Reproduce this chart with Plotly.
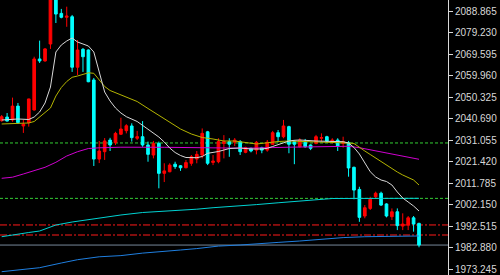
import plotly.graph_objects as go

# ---- candle data (index = bar number) ----
opens = [2039.76, 2041.4, 2040.1, 2046.3, 2037.4, 2038.9, 2044.55, 2067.4, 2066.5, 2074.1,
         2097.4, 2087.8, 2086.05, 2086.3, 2063.7, 2071.7, 2071.4, 2058.0, 2022.6, 2025.9,
         2031.1, 2029.9, 2033.7, 2035.3, 2037.4, 2031.9, 2032.6, 2028.9, 2024.4, 2029.6,
         2016.2, 2016.9, 2020.3, 2019.6, 2018.7, 2020.7, 2022.6, 2024.4, 2034.8, 2021.1,
         2021.4, 2029.6, 2030.4, 2030.1, 2030.4, 2025.6, 2027.4, 2026.6, 2027.7, 2026.6,
         2029.2, 2034.4, 2032.6, 2037.1, 2030.4, 2028.1, 2030.1, 2028.9, 2029.6, 2031.9,
         2032.6, 2030.4, 2031.1, 2029.6, 2030.0, 2018.9, 2009.0, 1997.1, 2000.5, 2005.7,
         2007.3, 2002.5, 1996.8, 1999.0, 1992.6, 1993.1, 1996.3, 1993.8]
highs = [2042.3, 2043.2, 2050.1, 2047.7, 2040.1, 2049.6, 2068.4, 2075.6, 2072.3, 2098.3,
         2099.2, 2089.8, 2090.8, 2087.1, 2075.9, 2072.3, 2071.7, 2058.9, 2030.7, 2032.0,
         2032.1, 2034.8, 2041.1, 2038.2, 2038.6, 2035.2, 2039.6, 2030.4, 2030.7, 2030.4,
         2020.7, 2020.7, 2021.4, 2019.9, 2022.2, 2024.4, 2026.2, 2036.3, 2035.2, 2024.4,
         2031.9, 2033.3, 2031.9, 2032.0, 2031.1, 2028.1, 2027.7, 2030.7, 2028.1, 2031.1,
         2035.2, 2035.6, 2040.1, 2037.5, 2031.1, 2031.9, 2031.6, 2029.2, 2033.4, 2034.1,
         2033.0, 2031.9, 2031.9, 2032.6, 2030.7, 2019.2, 2010.2, 2002.0, 2005.7, 2008.0,
         2008.0, 2002.8, 2000.5, 2000.5, 1998.3, 1997.1, 1997.1, 1994.1]
lows = [2039.3, 2039.4, 2039.3, 2038.3, 2034.3, 2037.1, 2044.3, 2065.6, 2066.2, 2071.9,
        2083.5, 2085.6, 2081.8, 2061.6, 2060.2, 2061.6, 2057.0, 2019.5, 2020.8, 2022.2,
        2026.2, 2028.9, 2033.4, 2034.1, 2030.4, 2031.1, 2028.1, 2021.4, 2022.9, 2009.5,
        2012.3, 2016.7, 2018.2, 2017.3, 2018.5, 2019.6, 2020.7, 2022.9, 2019.9, 2019.9,
        2020.7, 2022.9, 2023.6, 2028.4, 2024.4, 2025.2, 2025.6, 2024.7, 2025.2, 2025.9,
        2028.9, 2030.1, 2031.9, 2025.2, 2020.3, 2027.8, 2027.7, 2026.6, 2029.2, 2030.4,
        2030.1, 2029.6, 2026.2, 2027.7, 2014.7, 2004.6, 1994.5, 1996.1, 1999.8, 2005.0,
        2001.6, 1996.5, 1995.3, 1990.8, 1990.8, 1990.8, 1990.1, 1983.1]
closes = [2041.55, 2039.6, 2046.3, 2038.9, 2038.2, 2049.5, 2067.4, 2066.5, 2071.9, 2097.4,
          2087.5, 2086.05, 2086.6, 2063.7, 2071.4, 2068.4, 2057.2, 2022.6, 2026.2, 2030.7,
          2028.9, 2034.1, 2036.05, 2037.5, 2032.2, 2032.6, 2028.9, 2024.7, 2029.6, 2016.2,
          2017.3, 2019.9, 2019.2, 2018.7, 2021.0, 2023.6, 2024.7, 2034.1, 2020.7, 2021.7,
          2030.4, 2030.4, 2029.2, 2031.1, 2025.9, 2027.7, 2026.2, 2030.1, 2026.6, 2030.1,
          2034.4, 2032.6, 2037.4, 2029.2, 2029.2, 2031.1, 2028.1, 2027.4, 2032.6, 2032.2,
          2030.7, 2031.1, 2028.4, 2030.4, 2018.6, 2008.7, 1996.5, 2000.8, 2004.6, 2007.3,
          2002.0, 1997.1, 1999.0, 1992.8, 1993.5, 1996.3, 1993.5, 1984.1]

# ---- moving averages (bar index, price) ----
white_idx = [0, 3, 5, 6, 7, 8, 9, 10, 11, 12, 13, 14, 15, 16, 17, 18, 19, 20, 21, 22, 23, 25, 27,
             29, 30, 31, 32, 33, 34, 36, 37, 38, 40, 42, 44, 46, 48, 49, 50, 51, 52, 53, 54, 55,
             58, 61, 63, 64, 65, 66, 67, 68, 69, 70, 71, 72, 73, 74, 75, 76, 77]
white_val = [2040.08, 2040.53, 2040.30, 2041.42, 2043.66, 2047.69, 2054.85, 2070.51, 2073.65,
             2075.44, 2076.78, 2074.99, 2074.10, 2073.20, 2070.51, 2061.56, 2052.61, 2048.58,
             2045.45, 2043.21, 2041.56, 2039.41, 2036.05, 2032.47, 2030.23, 2027.55, 2025.53,
             2024.19, 2023.29, 2023.20, 2023.74, 2025.17, 2025.98, 2027.32, 2027.55, 2027.10,
             2027.10, 2027.41, 2028.22, 2029.11, 2030.01, 2030.68, 2030.99, 2031.13, 2030.68,
             2030.36, 2030.36, 2029.78, 2027.77, 2024.86, 2020.83, 2016.94, 2014.56, 2013.22,
             2012.55, 2010.98, 2007.85, 2005.17, 2003.37, 2001.58, 1999.35]

yellow_idx = [0, 5, 6, 7, 8, 9, 10, 11, 12, 13, 14, 15, 16, 17, 18, 19, 20, 21, 22, 23, 25, 27,
              29, 31, 33, 35, 37, 39, 41, 43, 45, 47, 49, 51, 53, 56, 59, 62, 64, 65, 66, 67,
              68, 69, 70, 71, 72, 73, 74, 75, 76, 77]
yellow_val = [2038.29, 2038.74, 2039.41, 2041.42, 2043.43, 2045.45, 2050.82, 2054.62, 2057.31,
              2059.19, 2059.77, 2060.40, 2061.20, 2060.98, 2057.98, 2055.07, 2053.28, 2052.30,
              2051.27, 2050.28, 2048.36, 2045.23, 2042.09, 2038.96, 2036.05, 2033.81, 2032.24,
              2031.57, 2030.68, 2030.68, 2030.01, 2029.34, 2029.87, 2030.45, 2030.68, 2030.45,
              2030.23, 2030.23, 2029.78, 2029.56, 2027.77, 2026.20, 2024.64, 2023.07, 2021.28,
              2019.71, 2018.01, 2016.80, 2015.46, 2014.34, 2013.22, 2010.98]

magenta_idx = [0, 2, 4, 6, 8, 10, 12, 14, 16, 18, 22, 30, 40, 45, 53, 58, 64, 66, 68, 70, 72, 74, 77]
magenta_val = [2013.98, 2014.48, 2015.91, 2017.25, 2018.91, 2021.14, 2023.96, 2025.89, 2027.32,
               2027.63, 2027.90, 2027.86, 2027.41, 2027.46, 2027.90, 2028.08, 2028.31, 2027.68,
               2026.78, 2025.84, 2024.95, 2024.05, 2022.49]

cyan_idx = [0, 2, 5, 7, 10, 13, 16, 19, 22, 26, 29, 33, 36, 39, 42, 47, 51, 55, 58, 61, 77]
cyan_val = [1987.84, 1988.69, 1989.72, 1990.39, 1993.08, 1994.42, 1995.54, 1996.57, 1997.56,
            1998.67, 1999.03, 1999.79, 2000.15, 2000.82, 2001.27, 2002.21, 2003.02, 2003.82,
            2004.45, 2004.94, 2005.03]

blue_idx = [0, 4, 7, 11, 14, 18, 22, 26, 29, 33, 36, 40, 44, 47, 51, 55, 59, 63, 67, 77]
blue_val = [1972.18, 1973.16, 1973.97, 1976.07, 1977.55, 1978.85, 1979.38, 1980.50, 1980.99,
            1981.89, 1982.52, 1983.64, 1984.13, 1984.75, 1985.29, 1985.92, 1986.68, 1987.44,
            1987.84, 1988.16]

# ---- horizontal levels ----
green_levels = [2029.8, 2005.0]
red_levels = [1993.1, 1988.6]

# ---- price scale labels ----
tick_labels = ["2088.865", "2079.230", "2069.595", "2059.960", "2050.325", "2040.690", "2031.055",
               "2021.420", "2011.785", "2002.150", "1992.515", "1982.880", "1973.245"]
tick_vals = [float(t) for t in tick_labels]

bars = list(range(len(opens)))

fig = go.Figure()
fig.add_trace(go.Candlestick(
    x=bars, open=opens, high=highs, low=lows, close=closes,
    increasing=dict(line=dict(color="#ff0000", width=1), fillcolor="#ff0000"),
    decreasing=dict(line=dict(color="#00ffff", width=1), fillcolor="#00ffff"),
    whiskerwidth=0, showlegend=False, hoverinfo="skip"))

for xs, ys, col in [(blue_idx, blue_val, "#1f7fe0"),
                    (cyan_idx, cyan_val, "#00d2d2"),
                    (magenta_idx, magenta_val, "#d000d0"),
                    (yellow_idx, yellow_val, "#b4b400"),
                    (white_idx, white_val, "#d8d8d8")]:
    fig.add_trace(go.Scatter(x=xs, y=ys, mode="lines", line=dict(color=col, width=1),
                             showlegend=False, hoverinfo="skip"))

shapes = []
for lv in green_levels:
    shapes.append(dict(type="line", xref="paper", x0=0, x1=1, yref="y", y0=lv, y1=lv,
                       line=dict(color="#33cc33", width=1, dash="3px,2px"), layer="below"))
for lv in red_levels:
    shapes.append(dict(type="line", xref="paper", x0=0, x1=1, yref="y", y0=lv, y1=lv,
                       line=dict(color="#ff1a1a", width=1, dash="7px,2px,2px,2px"), layer="below"))
shapes.append(dict(type="line", xref="paper", x0=0, x1=1, yref="y", y0=closes[-1], y1=closes[-1],
                   line=dict(color="#778899", width=1), layer="below"))

fig.update_layout(
    width=500, height=275, autosize=False,
    margin=dict(l=0, r=52, t=0, b=0),
    paper_bgcolor="#000000", plot_bgcolor="#000000",
    shapes=shapes, hovermode=False,
    xaxis=dict(range=[-0.31, 82.35], showgrid=False, zeroline=False, showticklabels=False,
               ticks="", showline=False, rangeslider=dict(visible=False), fixedrange=True),
    yaxis=dict(range=[1970.7, 2093.79], side="right", showgrid=False, zeroline=False,
               showline=True, linecolor="#d8d8d8", linewidth=1,
               ticks="outside", ticklen=4, tickcolor="#d8d8d8", tickwidth=1,
               tickvals=tick_vals, ticktext=tick_labels,
               tickfont=dict(family="Liberation Sans, Arial, sans-serif", size=10, color="#d8d8d8"),
               fixedrange=True),
)

fig.write_html("out.html", config={"displayModeBar": False, "staticPlot": True})
